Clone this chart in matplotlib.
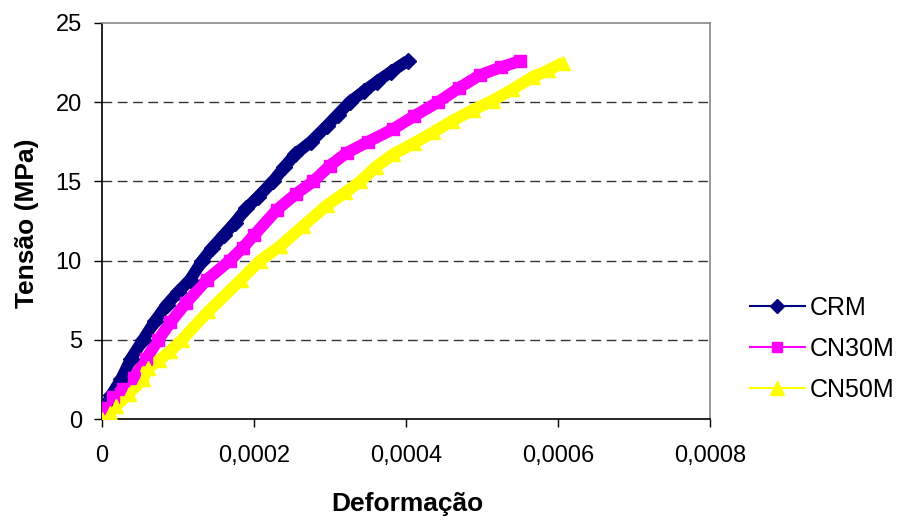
import matplotlib
matplotlib.use("Agg")
import matplotlib.pyplot as plt
from matplotlib.lines import Line2D

plt.rcParams['font.family'] = ['Liberation Sans', 'DejaVu Sans']

# strain values (x 1e-4) and stress (MPa)
crm_strain = [0, 0.05, 0.12, 0.25, 0.38, 0.54, 0.7, 0.85, 1.0, 1.16, 1.32, 1.45, 1.6,
              1.75, 1.9, 2.05, 2.25, 2.4, 2.54, 2.75, 2.96, 3.1, 3.26, 3.45, 3.62, 3.8, 4.02]
crm_stress = [0, 0.8, 1.5, 2.5, 3.8, 5.0, 6.2, 7.2, 8.0, 8.8, 10.0, 10.8, 11.6,
              12.4, 13.3, 14.0, 15.0, 15.9, 16.7, 17.5, 18.5, 19.2, 20.0, 20.7, 21.3, 21.9, 22.6]

cn30_strain = [0, 0.04, 0.15, 0.28, 0.42, 0.58, 0.74, 0.9, 1.1, 1.38, 1.68, 1.85, 2.0,
               2.3, 2.55, 2.78, 3.0, 3.22, 3.5, 3.83, 4.1, 4.42, 4.7, 4.97, 5.25, 5.5]
cn30_stress = [0, 0.7, 1.4, 1.9, 2.6, 3.8, 5.0, 6.1, 7.3, 8.8, 10.0, 10.8, 11.6,
               13.2, 14.2, 15.0, 16.0, 16.8, 17.5, 18.3, 19.1, 20.0, 20.9, 21.7, 22.2, 22.6]

cn50_strain = [0, 0.1, 0.18, 0.35, 0.54, 0.6, 0.75, 0.9, 1.05, 1.4, 1.83, 2.08,
               2.34, 2.65, 2.96, 3.2, 3.4, 3.6, 3.83, 4.1, 4.36, 4.6, 4.88, 5.14, 5.4, 5.67, 5.87, 6.07]
cn50_stress = [0, 0.4, 0.8, 1.6, 2.5, 3.2, 3.7, 4.3, 5.0, 6.8, 8.8, 10.0,
               10.9, 12.2, 13.5, 14.3, 15.0, 15.9, 16.7, 17.4, 18.1, 18.8, 19.5, 20.1, 20.8, 21.6, 22.0, 22.5]

x_ticks = [0, 0.0002, 0.0004, 0.0006, 0.0008]
x_tick_labels = ['0', '0,0002', '0,0004', '0,0006', '0,0008']
y_ticks = [0, 5, 10, 15, 20, 25]

series = [
    ('CRM', crm_strain, crm_stress, '#000080', 'D', 8),
    ('CN30M', cn30_strain, cn30_stress, '#FF00FF', 's', 8),
    ('CN50M', cn50_strain, cn50_stress, '#FFFF00', '^', 10),
]

fig = plt.figure(figsize=(9.01, 5.20), dpi=100)
ax = fig.add_axes([0.1132, 0.194, 0.6748, 0.762])

handles = []
for name, xs, ys, color, mk, ms in series:
    xv = [v * 1e-4 for v in xs]
    ax.plot(xv, ys, color=color, lw=8.5, solid_capstyle='butt', zorder=3)
    ax.plot(xv, ys, color=color, lw=0, marker=mk, ms=ms, mec=color, mfc=color, zorder=4)
    handles.append(Line2D([0], [0], color=color, lw=1.5, marker=mk, ms=ms * 0.95,
                          mec=color, mfc=color, label=name))

ax.set_xlim(0, 0.0008)
ax.set_ylim(0, 25)
ax.set_xticks(x_ticks)
ax.set_xticklabels(x_tick_labels)
ax.set_yticks(y_ticks)
ax.tick_params(axis='both', direction='out', length=5.5, width=1, labelsize=17, colors='black')
ax.tick_params(axis='x', pad=13)
ax.tick_params(axis='y', pad=9)

for yv in [5, 10, 15, 20]:
    ax.axhline(yv, color='#333333', lw=1, ls=(0, (7, 4)), zorder=1)

ax.spines['top'].set_color('#888888')
ax.spines['right'].set_color('#888888')
ax.spines['left'].set_color('black')
ax.spines['bottom'].set_color('black')
for s in ax.spines.values():
    s.set_linewidth(1.2)

ax.set_xlabel('Deformação', fontsize=19, fontweight='bold', va='center')
ax.xaxis.set_label_coords(0.503, -0.213)
ax.set_ylabel('Tensão (MPa)', fontsize=19, fontweight='bold', va='center')
ax.yaxis.set_label_coords(-0.124, 0.495)

fig.legend(handles=handles, loc='center left', bbox_to_anchor=(0.821, 0.329),
           frameon=False, fontsize=18, handlelength=2.2, handletextpad=0.22,
           labelspacing=0.67, borderaxespad=0)

fig.savefig('out.png', dpi=100)
